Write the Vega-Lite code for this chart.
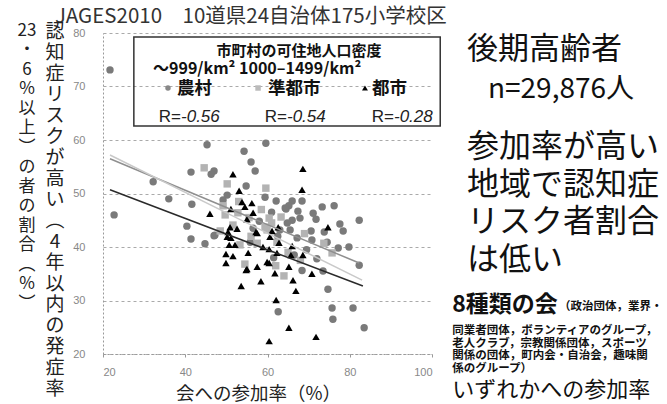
{
  "$schema": "https://vega.github.io/schema/vega-lite/v6.json",
  "width": 329,
  "height": 321,
  "autosize": {"type": "none"},
  "padding": {"left": 103, "top": 33, "right": 235, "bottom": 50},
  "background": "white",
  "config": {"view": {"stroke": null}, "font": "Noto Sans CJK JP"},
  "resolve": {"scale": {"color": "independent", "shape": "independent"}},
  "layer": [
    {
      "data": {"values": [
        {"area":"農村","participation":21.7,"risk":73.1},
        {"area":"農村","participation":45.3,"risk":59.1},
        {"area":"農村","participation":59.6,"risk":59.4},
        {"area":"農村","participation":54.3,"risk":57.9},
        {"area":"農村","participation":56.0,"risk":55.9},
        {"area":"農村","participation":57.0,"risk":54.2},
        {"area":"農村","participation":41.4,"risk":54.0},
        {"area":"農村","participation":32.2,"risk":52.2},
        {"area":"農村","participation":36.0,"risk":49.0},
        {"area":"農村","participation":41.6,"risk":48.0},
        {"area":"農村","participation":22.7,"risk":46.0},
        {"area":"農村","participation":40.4,"risk":43.9},
        {"area":"農村","participation":41.4,"risk":41.5},
        {"area":"農村","participation":44.8,"risk":40.6},
        {"area":"農村","participation":47.0,"risk":54.2},
        {"area":"農村","participation":46.3,"risk":53.6},
        {"area":"農村","participation":54.8,"risk":51.4},
        {"area":"農村","participation":59.4,"risk":49.3},
        {"area":"農村","participation":62.1,"risk":48.6},
        {"area":"農村","participation":66.0,"risk":48.6},
        {"area":"農村","participation":65.2,"risk":47.7},
        {"area":"農村","participation":64.5,"risk":47.1},
        {"area":"農村","participation":68.4,"risk":48.6},
        {"area":"農村","participation":67.4,"risk":46.7},
        {"area":"農村","participation":73.3,"risk":47.5},
        {"area":"農村","participation":76.2,"risk":47.7},
        {"area":"農村","participation":71.1,"risk":46.3},
        {"area":"農村","participation":71.8,"risk":45.2},
        {"area":"農村","participation":82.3,"risk":45.0},
        {"area":"農村","participation":77.6,"risk":44.3},
        {"area":"農村","participation":70.6,"risk":43.0},
        {"area":"農村","participation":78.4,"risk":43.0},
        {"area":"農村","participation":73.8,"risk":42.8},
        {"area":"農村","participation":70.8,"risk":41.3},
        {"area":"農村","participation":74.5,"risk":40.9},
        {"area":"農村","participation":79.8,"risk":40.0},
        {"area":"農村","participation":77.2,"risk":39.8},
        {"area":"農村","participation":82.3,"risk":36.6},
        {"area":"農村","participation":73.5,"risk":35.5},
        {"area":"農村","participation":74.7,"risk":32.1},
        {"area":"農村","participation":62.6,"risk":27.9},
        {"area":"農村","participation":75.7,"risk":28.6},
        {"area":"農村","participation":75.9,"risk":26.5},
        {"area":"農村","participation":80.8,"risk":28.6},
        {"area":"農村","participation":83.5,"risk":24.9},
        {"area":"農村","participation":68.4,"risk":35.6},
        {"area":"農村","participation":50.2,"risk":49.7},
        {"area":"農村","participation":49.2,"risk":48.8},
        {"area":"農村","participation":47.0,"risk":42.1},
        {"area":"農村","participation":55.8,"risk":40.9},
        {"area":"農村","participation":64.3,"risk":47.3},
        {"area":"農村","participation":66.0,"risk":45.0},
        {"area":"農村","participation":64.8,"risk":44.5},
        {"area":"農村","participation":67.9,"risk":45.4},
        {"area":"農村","participation":63.0,"risk":43.2},
        {"area":"農村","participation":67.2,"risk":41.7},
        {"area":"農村","participation":65.5,"risk":43.2},
        {"area":"農村","participation":72.0,"risk":37.8},
        {"area":"農村","participation":47.2,"risk":42.2},
        {"area":"農村","participation":61.0,"risk":46.5},
        {"area":"農村","participation":69.5,"risk":39.5},
        {"area":"農村","participation":62.5,"risk":42.0},
        {"area":"農村","participation":58.0,"risk":44.8},
        {"area":"農村","participation":66.5,"risk":38.5},
        {"area":"農村","participation":61.5,"risk":38.0},
        {"area":"農村","participation":56.5,"risk":43.5},
        {"area":"準都市","participation":44.6,"risk":54.8},
        {"area":"準都市","participation":50.2,"risk":51.8},
        {"area":"準都市","participation":59.6,"risk":51.0},
        {"area":"準都市","participation":49.2,"risk":47.7},
        {"area":"準都市","participation":52.8,"risk":46.4},
        {"area":"準都市","participation":60.4,"risk":45.4},
        {"area":"準都市","participation":63.3,"risk":45.6},
        {"area":"準都市","participation":51.6,"risk":44.1},
        {"area":"準都市","participation":59.4,"risk":43.7},
        {"area":"準都市","participation":53.3,"risk":40.4},
        {"area":"準都市","participation":54.5,"risk":36.8},
        {"area":"準都市","participation":64.0,"risk":34.6},
        {"area":"準都市","participation":73.7,"risk":40.7},
        {"area":"準都市","participation":75.7,"risk":38.9},
        {"area":"準都市","participation":49.7,"risk":46.0},
        {"area":"準都市","participation":59.9,"risk":43.2},
        {"area":"準都市","participation":62.3,"risk":40.9},
        {"area":"準都市","participation":57.5,"risk":40.7},
        {"area":"準都市","participation":61.0,"risk":44.5},
        {"area":"準都市","participation":56.0,"risk":42.0},
        {"area":"準都市","participation":48.5,"risk":43.0},
        {"area":"準都市","participation":65.0,"risk":39.0},
        {"area":"準都市","participation":68.0,"risk":37.5},
        {"area":"準都市","participation":58.5,"risk":47.0},
        {"area":"準都市","participation":55.5,"risk":45.5},
        {"area":"準都市","participation":62.0,"risk":36.5},
        {"area":"準都市","participation":69.0,"risk":42.5},
        {"area":"準都市","participation":53.0,"risk":48.5},
        {"area":"都市","participation":51.6,"risk":53.6},
        {"area":"都市","participation":68.6,"risk":54.6},
        {"area":"都市","participation":68.4,"risk":50.7},
        {"area":"都市","participation":53.1,"risk":50.5},
        {"area":"都市","participation":46.0,"risk":46.2},
        {"area":"都市","participation":51.1,"risk":47.1},
        {"area":"都市","participation":54.5,"risk":47.5},
        {"area":"都市","participation":56.5,"risk":46.4},
        {"area":"都市","participation":55.0,"risk":45.2},
        {"area":"都市","participation":50.9,"risk":43.7},
        {"area":"都市","participation":52.6,"risk":43.4},
        {"area":"都市","participation":50.4,"risk":42.8},
        {"area":"都市","participation":51.1,"risk":41.7},
        {"area":"都市","participation":50.7,"risk":40.4},
        {"area":"都市","participation":57.2,"risk":42.8},
        {"area":"都市","participation":62.6,"risk":43.7},
        {"area":"都市","participation":60.6,"risk":41.9},
        {"area":"都市","participation":58.9,"risk":40.0},
        {"area":"都市","participation":62.8,"risk":40.8},
        {"area":"都市","participation":66.0,"risk":40.2},
        {"area":"都市","participation":49.9,"risk":38.7},
        {"area":"都市","participation":51.6,"risk":38.3},
        {"area":"都市","participation":55.3,"risk":38.9},
        {"area":"都市","participation":60.4,"risk":39.6},
        {"area":"都市","participation":62.3,"risk":38.9},
        {"area":"都市","participation":65.7,"risk":38.5},
        {"area":"都市","participation":68.6,"risk":38.5},
        {"area":"都市","participation":49.9,"risk":37.0},
        {"area":"都市","participation":55.0,"risk":35.9},
        {"area":"都市","participation":57.5,"risk":36.3},
        {"area":"都市","participation":60.4,"risk":37.0},
        {"area":"都市","participation":61.8,"risk":35.1},
        {"area":"都市","participation":65.2,"risk":36.3},
        {"area":"都市","participation":70.8,"risk":35.0},
        {"area":"都市","participation":66.2,"risk":33.8},
        {"area":"都市","participation":53.6,"risk":32.7},
        {"area":"都市","participation":58.4,"risk":33.6},
        {"area":"都市","participation":66.9,"risk":31.8},
        {"area":"都市","participation":62.1,"risk":30.1},
        {"area":"都市","participation":65.2,"risk":24.9},
        {"area":"都市","participation":60.4,"risk":22.4},
        {"area":"都市","participation":71.8,"risk":23.2},
        {"area":"都市","participation":74.7,"risk":43.7},
        {"area":"都市","participation":53.8,"risk":48.4},
        {"area":"都市","participation":56.2,"risk":48.2},
        {"area":"都市","participation":50.2,"risk":41.9},
        {"area":"都市","participation":52.1,"risk":40.4},
        {"area":"都市","participation":57.5,"risk":42.6},
        {"area":"都市","participation":59.9,"risk":37.2},
        {"area":"都市","participation":61.1,"risk":43.0},
        {"area":"都市","participation":54.8,"risk":35.7}
      ]},
      "mark": {"type": "point", "filled": true, "size": 55, "opacity": 1},
      "encoding": {
        "x": {"field": "participation", "type": "quantitative",
          "scale": {"domain": [20, 100], "nice": false, "zero": false},
          "axis": {"title": "会への参加率（%）", "values": [20, 40, 60, 80, 100], "grid": false,
            "domainColor": "#999", "domainDash": [2, 2], "tickColor": "#999", "tickSize": 3,
            "labelColor": "#888", "labelFont": "Liberation Sans", "labelFontSize": 11, "labelPadding": 9,
            "titleFont": "Noto Sans CJK JP", "titleFontSize": 18.5, "titleFontWeight": "normal",
            "titleColor": "#222", "titlePadding": 7, "titleX": 155}},
        "y": {"field": "risk", "type": "quantitative",
          "scale": {"domain": [20, 80], "nice": false, "zero": false},
          "axis": {"title": null, "values": [20, 30, 40, 50, 60, 70, 80], "grid": true,
            "gridColor": "#aaa", "gridDash": [3, 3], "domainColor": "#999", "domainDash": [2, 2],
            "ticks": false, "labelColor": "#888", "labelFont": "Liberation Sans", "labelFontSize": 11,
            "labelPadding": 18}},
        "shape": {"field": "area", "type": "nominal",
          "scale": {"domain": ["農村", "準都市", "都市"], "range": ["circle", "square", "triangle-up"]}, "legend": null},
        "color": {"field": "area", "type": "nominal",
          "scale": {"domain": ["農村", "準都市", "都市"], "range": ["#7a7a7a", "#b3b3b3", "#000000"]}, "legend": null}
      }
    },
    {
      "data": {"values": [
        {"area":"農村","participation":21.7,"risk":56.5},
        {"area":"農村","participation":82.3,"risk":37.0},
        {"area":"準都市","participation":21.7,"risk":57.2},
        {"area":"準都市","participation":83.0,"risk":33.8},
        {"area":"都市","participation":21.7,"risk":50.7},
        {"area":"都市","participation":83.2,"risk":32.7}
      ]},
      "mark": {"type": "line", "strokeWidth": 1.5},
      "encoding": {
        "x": {"field": "participation", "type": "quantitative", "scale": {"domain": [20, 100], "nice": false, "zero": false}},
        "y": {"field": "risk", "type": "quantitative", "scale": {"domain": [20, 80], "nice": false, "zero": false}},
        "color": {"field": "area", "type": "nominal",
          "scale": {"domain": ["農村", "準都市", "都市"], "range": ["#8f8f8f", "#c9c9c9", "#2a2a2a"]}, "legend": null}
      }
    },
    {
      "data": {"values": [{}]},
      "mark": {"type": "rect", "filled": false, "stroke": "#333", "strokeWidth": 1.5},
      "encoding": {
        "x": {"datum": 27.5, "type": "quantitative"},
        "x2": {"datum": 102.0},
        "y": {"datum": 79.25, "type": "quantitative"},
        "y2": {"datum": 62.6}
      }
    },
    {
      "data": {"values": [{"t": "市町村の可住地人口密度"}]},
      "mark": {"type": "text", "align": "center", "baseline": "middle", "fontSize": 15, "fontWeight": "bold", "font": "Noto Sans CJK JP", "color": "#111"},
      "encoding": {"text": {"field": "t"}, "x": {"datum": 67.66, "type": "quantitative"}, "y": {"datum": 76.64, "type": "quantitative"}}
    },
    {
      "data": {"values": [{"t": "～999/km²  1000–1499/km²"}]},
      "mark": {"type": "text", "align": "left", "baseline": "middle", "fontSize": 16, "fontWeight": "bold", "font": "Noto Sans CJK JP", "color": "#111"},
      "encoding": {"text": {"field": "t"}, "x": {"datum": 32.16, "type": "quantitative"}, "y": {"datum": 73.27, "type": "quantitative"}}
    },
    {
      "data": {"values": [{}]},
      "mark": {"type": "point", "shape": "circle", "filled": true, "size": 30, "color": "#888", "opacity": 1},
      "encoding": {"x": {"datum": 35.8, "type": "quantitative"}, "y": {"datum": 69.72, "type": "quantitative"}}
    },
    {
      "data": {"values": [{}]},
      "mark": {"type": "point", "shape": "square", "filled": true, "size": 30, "color": "#bbb", "opacity": 1},
      "encoding": {"x": {"datum": 57.7, "type": "quantitative"}, "y": {"datum": 69.72, "type": "quantitative"}}
    },
    {
      "data": {"values": [{}]},
      "mark": {"type": "point", "shape": "triangle-up", "filled": true, "size": 35, "color": "#000", "opacity": 1},
      "encoding": {"x": {"datum": 83.7, "type": "quantitative"}, "y": {"datum": 69.72, "type": "quantitative"}}
    },
    {
      "data": {"values": [{"t": "農村"}]},
      "mark": {"type": "text", "align": "left", "baseline": "middle", "fontSize": 17.5, "fontWeight": "bold", "font": "Noto Sans CJK JP", "color": "#111"},
      "encoding": {"text": {"field": "t"}, "x": {"datum": 38.0, "type": "quantitative"}, "y": {"datum": 69.46, "type": "quantitative"}}
    },
    {
      "data": {"values": [{"t": "準都市"}]},
      "mark": {"type": "text", "align": "left", "baseline": "middle", "fontSize": 17.5, "fontWeight": "bold", "font": "Noto Sans CJK JP", "color": "#111"},
      "encoding": {"text": {"field": "t"}, "x": {"datum": 60.1, "type": "quantitative"}, "y": {"datum": 69.46, "type": "quantitative"}}
    },
    {
      "data": {"values": [{"t": "都市"}]},
      "mark": {"type": "text", "align": "left", "baseline": "middle", "fontSize": 17.5, "fontWeight": "bold", "font": "Noto Sans CJK JP", "color": "#111"},
      "encoding": {"text": {"field": "t"}, "x": {"datum": 85.4, "type": "quantitative"}, "y": {"datum": 69.46, "type": "quantitative"}}
    },
    {
      "data": {"values": [{"t": "R="}]},
      "mark": {"type": "text", "align": "right", "baseline": "middle", "fontSize": 17, "font": "Liberation Sans", "color": "#222"},
      "encoding": {"text": {"field": "t"}, "x": {"datum": 38.97, "type": "quantitative"}, "y": {"datum": 64.3, "type": "quantitative"}}
    },
    {
      "data": {"values": [{"t": "-0.56"}]},
      "mark": {"type": "text", "align": "left", "baseline": "middle", "fontSize": 17, "fontStyle": "italic", "font": "Liberation Sans", "color": "#222"},
      "encoding": {"text": {"field": "t"}, "x": {"datum": 38.97, "type": "quantitative"}, "y": {"datum": 64.3, "type": "quantitative"}}
    },
    {
      "data": {"values": [{"t": "R="}]},
      "mark": {"type": "text", "align": "right", "baseline": "middle", "fontSize": 17, "font": "Liberation Sans", "color": "#222"},
      "encoding": {"text": {"field": "t"}, "x": {"datum": 64.74, "type": "quantitative"}, "y": {"datum": 64.3, "type": "quantitative"}}
    },
    {
      "data": {"values": [{"t": "-0.54"}]},
      "mark": {"type": "text", "align": "left", "baseline": "middle", "fontSize": 17, "fontStyle": "italic", "font": "Liberation Sans", "color": "#222"},
      "encoding": {"text": {"field": "t"}, "x": {"datum": 64.74, "type": "quantitative"}, "y": {"datum": 64.3, "type": "quantitative"}}
    },
    {
      "data": {"values": [{"t": "R="}]},
      "mark": {"type": "text", "align": "right", "baseline": "middle", "fontSize": 17, "font": "Liberation Sans", "color": "#222"},
      "encoding": {"text": {"field": "t"}, "x": {"datum": 90.76, "type": "quantitative"}, "y": {"datum": 64.3, "type": "quantitative"}}
    },
    {
      "data": {"values": [{"t": "-0.28"}]},
      "mark": {"type": "text", "align": "left", "baseline": "middle", "fontSize": 17, "fontStyle": "italic", "font": "Liberation Sans", "color": "#222"},
      "encoding": {"text": {"field": "t"}, "x": {"datum": 90.76, "type": "quantitative"}, "y": {"datum": 64.3, "type": "quantitative"}}
    },
    {
      "data": {"values": [{"t": "JAGES2010　10道県24自治体175小学校区"}]},
      "mark": {"type": "text", "align": "left", "baseline": "middle", "fontSize": 20.5, "font": "Noto Sans CJK JP", "color": "#333"},
      "encoding": {"text": {"field": "t"}, "x": {"datum": 8.3, "type": "quantitative"}, "y": {"datum": 83.0, "type": "quantitative"}}
    },
    {
      "data": {"values": [{"t": "認\n知\n症\nリ\nス\nク\nが\n高\nい\n︵\n4\n年\n以\n内\nの\n発\n症\n率"}]},
      "mark": {"type": "text", "align": "center", "baseline": "top", "fontSize": 19, "lineHeight": 21, "lineBreak": "\n", "font": "Noto Sans CJK JP", "color": "#222"},
      "encoding": {"text": {"field": "t"}, "x": {"datum": 8.33, "type": "quantitative"}, "y": {"datum": 81.9, "type": "quantitative"}}
    },
    {
      "data": {"values": [{"t": "23\n・\n6\n%\n以\n上\n︶\nの\n者\nの\n割\n合\n︵\n%\n︶"}]},
      "mark": {"type": "text", "align": "center", "baseline": "top", "fontSize": 17, "lineHeight": 19.5, "lineBreak": "\n", "font": "Noto Sans CJK JP", "color": "#222"},
      "encoding": {"text": {"field": "t"}, "x": {"datum": 1.52, "type": "quantitative"}, "y": {"datum": 81.9, "type": "quantitative"}}
    },
    {
      "data": {"values": [{"t": "後期高齢者"}]},
      "mark": {"type": "text", "align": "left", "baseline": "middle", "fontSize": 31, "font": "Noto Sans CJK JP", "color": "#111"},
      "encoding": {"text": {"field": "t"}, "x": {"datum": 108.5, "type": "quantitative"}, "y": {"datum": 76.9, "type": "quantitative"}}
    },
    {
      "data": {"values": [{"t": "n=29,876人"}]},
      "mark": {"type": "text", "align": "left", "baseline": "middle", "fontSize": 28, "font": "Noto Sans CJK JP", "color": "#111"},
      "encoding": {"text": {"field": "t"}, "x": {"datum": 113.6, "type": "quantitative"}, "y": {"datum": 69.35, "type": "quantitative"}}
    },
    {
      "data": {"values": [{"t": "参加率が高い\n地域で認知症\nリスク者割合\nは低い"}]},
      "mark": {"type": "text", "align": "left", "baseline": "top", "fontSize": 32, "lineHeight": 37.7, "lineBreak": "\n", "font": "Noto Sans CJK JP", "color": "#111"},
      "encoding": {"text": {"field": "t"}, "x": {"datum": 108.5, "type": "quantitative"}, "y": {"datum": 61.5, "type": "quantitative"}}
    },
    {
      "data": {"values": [{"t": "8種類の会"}]},
      "mark": {"type": "text", "align": "left", "baseline": "middle", "fontSize": 23, "fontWeight": "bold", "font": "Noto Sans CJK JP", "color": "#111"},
      "encoding": {"text": {"field": "t"}, "x": {"datum": 104.9, "type": "quantitative"}, "y": {"datum": 29.16, "type": "quantitative"}}
    },
    {
      "data": {"values": [{"t": "（政治団体，業界・"}]},
      "mark": {"type": "text", "align": "left", "baseline": "middle", "fontSize": 11.5, "fontWeight": "bold", "font": "Noto Sans CJK JP", "color": "#111"},
      "encoding": {"text": {"field": "t"}, "x": {"datum": 130.9, "type": "quantitative"}, "y": {"datum": 28.78, "type": "quantitative"}}
    },
    {
      "data": {"values": [{"t": "同業者団体，ボランティアのグループ，\n老人クラブ，宗教関係団体，スポーツ\n関係の団体，町内会・自治会，趣味関\n係のグループ）"}]},
      "mark": {"type": "text", "align": "left", "baseline": "top", "fontSize": 11.5, "lineHeight": 12.4, "lineBreak": "\n", "fontWeight": "bold", "font": "Noto Sans CJK JP", "color": "#111"},
      "encoding": {"text": {"field": "t"}, "x": {"datum": 104.9, "type": "quantitative"}, "y": {"datum": 25.36, "type": "quantitative"}}
    },
    {
      "data": {"values": [{"t": "いずれかへの参加率"}]},
      "mark": {"type": "text", "align": "left", "baseline": "middle", "fontSize": 22, "font": "Noto Sans CJK JP", "color": "#111"},
      "encoding": {"text": {"field": "t"}, "x": {"datum": 104.9, "type": "quantitative"}, "y": {"datum": 13.3, "type": "quantitative"}}
    }
  ]
}
